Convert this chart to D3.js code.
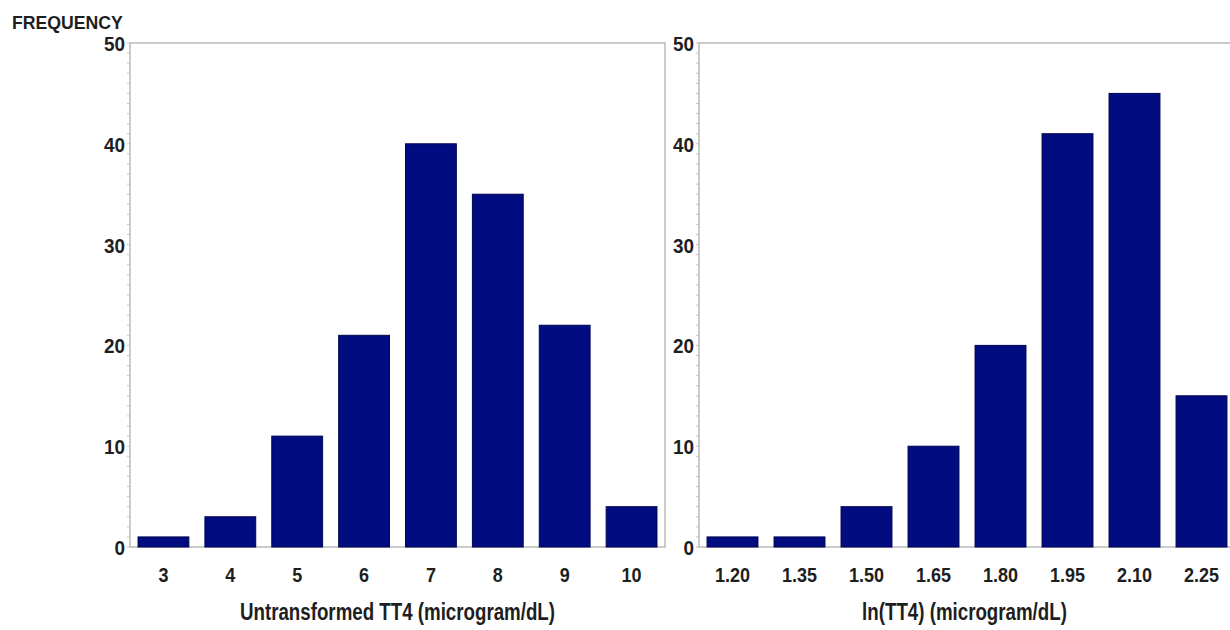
<!DOCTYPE html>
<html>
<head>
<meta charset="utf-8">
<script src="https://cdn.jsdelivr.net/npm/d3@7"></script>
<style>
  body { margin: 0; background: #fff; }
  text { font-family: "Liberation Sans", Arial, sans-serif; font-weight: bold; fill: #1e1e1e; }
</style>
</head>
<body>
<div id="chart"></div>
<script>
// data
const rawBins = ['3', '4', '5', '6', '7', '8', '9', '10'];
const rawCounts = [1, 3, 11, 21, 40, 35, 22, 4];
const lnBins = ['1.20', '1.35', '1.50', '1.65', '1.80', '1.95', '2.10', '2.25'];
const lnCounts = [1, 1, 4, 10, 20, 41, 45, 15];
const yTicks = [0, 10, 20, 30, 40, 50];

const width = 1230, height = 630;
const svg = d3.select('#chart').append('svg')
  .attr('width', width)
  .attr('height', height);

// the original font is condensed, so squeeze text horizontally
const narrow = (x, y, sx) => `translate(${x},${y}) scale(${sx},1)`;

svg.append('text')
  .attr('transform', narrow(12, 29, 0.95))
  .attr('font-size', 18.6)
  .text('FREQUENCY');

const plotTop = 43, plotBottom = 547;

const y = d3.scaleLinear()
  .domain([0, 50])
  .range([plotBottom, plotTop]);

function panel(left, right, bins, counts, title) {
  const g = svg.append('g');

  const x = d3.scaleBand()
    .domain(bins)
    .range([left, right])
    .paddingInner(0.24)
    .paddingOuter(0.12);

  // frame
  g.append('rect')
    .attr('x', left)
    .attr('y', plotTop)
    .attr('width', right - left)
    .attr('height', plotBottom - plotTop)
    .attr('fill', 'none')
    .attr('stroke', '#a8a8a8')
    .attr('stroke-width', 1.2);

  // minor ticks every unit
  g.selectAll('.minor')
    .data(d3.range(0, 51))
    .join('line')
      .attr('class', 'minor')
      .attr('x1', left - 3)
      .attr('x2', left)
      .attr('y1', d => y(d))
      .attr('y2', d => y(d))
      .attr('stroke', '#c4c4c4')
      .attr('stroke-width', 1);

  g.selectAll('.ylab')
    .data(yTicks)
    .join('text')
      .attr('class', 'ylab')
      .attr('transform', d => narrow(left - 5, y(d) + 8, 0.9))
      .attr('text-anchor', 'end')
      .attr('font-size', 21)
      .text(d => d);

  g.selectAll('.bar')
    .data(bins)
    .join('rect')
      .attr('class', 'bar')
      .attr('x', d => x(d))
      .attr('y', (d, i) => y(counts[i]))
      .attr('width', x.bandwidth())
      .attr('height', (d, i) => plotBottom - y(counts[i]))
      .attr('fill', '#000c80')
      .attr('stroke', '#000650')
      .attr('stroke-width', 1);

  g.selectAll('.xlab')
    .data(bins)
    .join('text')
      .attr('class', 'xlab')
      .attr('transform', d => narrow(x(d) + x.bandwidth() / 2, 582, 0.9))
      .attr('text-anchor', 'middle')
      .attr('font-size', 20)
      .text(d => d);

  g.append('text')
    .attr('transform', narrow((left + Math.min(right, width)) / 2, 619.5, 0.78))
    .attr('text-anchor', 'middle')
    .attr('font-size', 24)
    .text(title);
}

panel(130, 665, rawBins, rawCounts, 'Untransformed TT4 (microgram/dL)');
panel(699, 1235, lnBins, lnCounts, 'ln(TT4) (microgram/dL)');
</script>
</body>
</html>
